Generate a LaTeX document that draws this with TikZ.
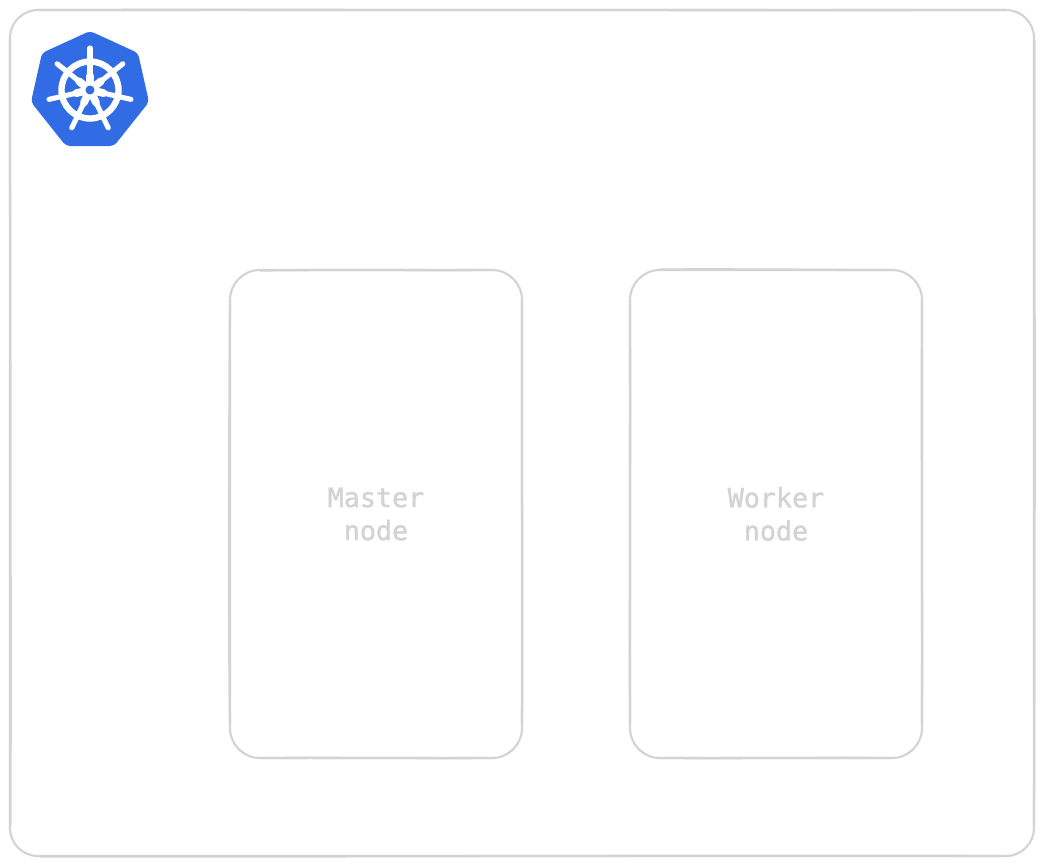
\documentclass[tikz,border=0pt]{standalone}
\usepackage{xcolor}
\usepackage{fontspec}
\newfontfamily\labelfont[FakeBold=1.2]{DejaVu Sans Mono}
\definecolor{sketchgray}{HTML}{D3D3D3}
\definecolor{kubeblue}{HTML}{326CE5}

\begin{document}
\begin{tikzpicture}[scale=1]
    % styles
    \tikzset{
      outline/.style    = {line width=0.6pt, draw=sketchgray},
      sidestroke/.style = {line width=0.65pt, draw=sketchgray},
      nodelabel/.style  = {align=center, text=sketchgray, font=\labelfont\fontsize{7.6}{9.4}\selectfont},
      logofill/.style   = {fill=kubeblue, draw=none, rounded corners=0.04cm},
      spoke/.style      = {line width=1.45pt, draw=white, line cap=round}
    }
    % page:
    \path[fill=white] (0,0) rectangle (10.44,8.65);

    % Cluster:
    \draw[outline, rounded corners=0.28cm] (0.10,0.09) rectangle (10.34,8.55);
    \draw[sidestroke] (0.40,0.085) .. controls (3,0.08) and (7,0.10) .. (10.05,0.09);
    \draw[sidestroke] (0.40,8.55) .. controls (3,8.555) and (7,8.545) .. (10.05,8.55);
    \draw[sidestroke] (0.105,0.40) .. controls (0.11,3) and (0.10,6) .. (0.10,8.25);
    \draw[sidestroke] (10.34,0.40) .. controls (10.35,3) and (10.345,6) .. (10.345,8.25);

    % Master node:
    \draw[outline, rounded corners=0.30cm] (2.30,1.07) rectangle (5.22,5.95);
    \draw[sidestroke] (2.60,1.07) .. controls (3.4,1.075) and (4.2,1.065) .. (4.92,1.07);
    \draw[sidestroke] (2.60,5.945) .. controls (3.4,5.955) and (4.2,5.945) .. (4.92,5.95);
    \draw[sidestroke] (2.30,1.40) .. controls (2.285,2.5) and (2.29,4) .. (2.30,5.65);
    \draw[sidestroke] (5.22,1.40) .. controls (5.23,2.5) and (5.215,4) .. (5.22,5.65);
    \node[nodelabel] (master) at (3.76,3.51) {Master\\node};

    % Worker node:
    \draw[outline, rounded corners=0.30cm] (6.30,1.07) rectangle (9.22,5.95);
    \draw[sidestroke] (6.60,1.07) .. controls (7.4,1.065) and (8.2,1.075) .. (8.92,1.07);
    \draw[sidestroke] (6.60,5.955) .. controls (7.4,5.96) and (8.2,5.95) .. (8.92,5.95);
    \draw[sidestroke] (6.30,1.40) .. controls (6.295,2.5) and (6.305,4) .. (6.30,5.65);
    \draw[sidestroke] (9.22,1.40) .. controls (9.225,2.5) and (9.215,4) .. (9.22,5.65);
    \node[nodelabel] (worker) at (7.76,3.51) {Worker\\node};

    % Logo:
    \path[logofill] (0.90,8.34) -- (1.38,8.12) -- (1.49,7.63) -- (1.14,7.19)
    -- (0.66,7.19) -- (0.31,7.63) -- (0.42,8.12) -- cycle;
    \draw[white, line width=1.8pt] (0.90,7.75) circle (0.285);
    \foreach \spokeangle in {90,141.4,192.9,244.3,295.7,347.1,38.6} {
      \draw[spoke] (0.90,7.75) -- ++(\spokeangle:0.42);
      \draw[spoke, line width=2.2pt] (0.90,7.75) -- ++(\spokeangle:0.14);
    }
    \path[fill=kubeblue] (0.90,7.75) circle (0.045);

\end{tikzpicture}
\end{document}
